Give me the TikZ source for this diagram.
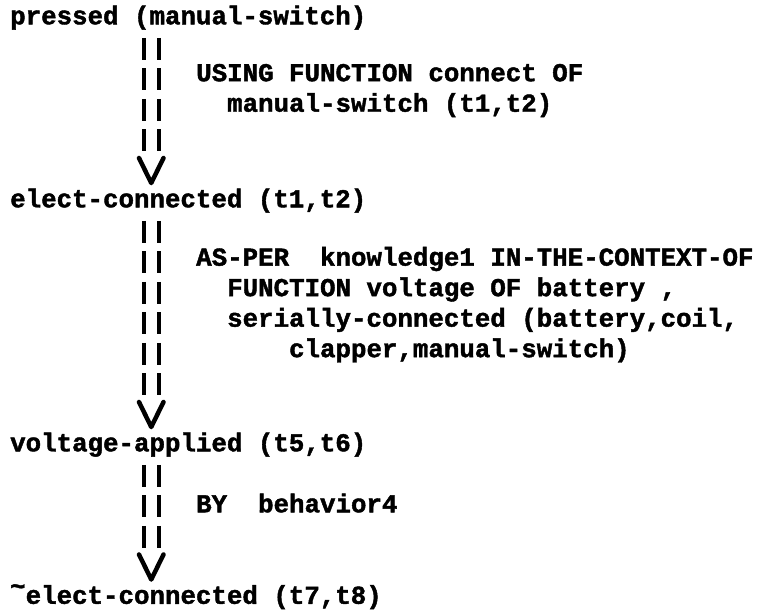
\documentclass[tikz,border=0pt]{standalone}
\usepackage{fontspec}
\newfontfamily\typewriter{Liberation Mono}[BoldFeatures={FakeBold=1.6}]
\usetikzlibrary{calc}

\tikzset{
  stmt/.style={anchor=north west, inner sep=0pt,
    font=\typewriter\bfseries\fontsize{25.8}{30.5}\selectfont,
    execute at begin node=\strut},
  note/.style={stmt, align=left},
  bars/.style={line width=4pt, dash pattern=on 22pt off 8.5pt},
  vee/.style={line width=4.5pt, line cap=round, line join=round},
}

\begin{document}
\begin{tikzpicture}[x=1pt, y=-1pt]
  \useasboundingbox (0,0) rectangle (758,613);

  % the derived states, one per text line of the trace
  \node[stmt] (s1) at (10,2.75) {pressed (manual-switch)};
  \node[stmt] (s2) at (10,185.75) {elect-connected (t1,t2)};
  \node[stmt] (s3) at (10,429.75) {voltage-applied (t5,t6)};
  \node[stmt] (s4) at (10,582.25) {\raisebox{9pt}{\textasciitilde}elect-connected (t7,t8)};

  % justifications beside the links
  \node[note] (n1) at (196,63.75) {USING FUNCTION connect OF\\
    \hphantom{xx}manual-switch (t1,t2)};
  \node[note] (n2) at (196,246.75) {AS-PER\ \ knowledge1 IN-THE-CONTEXT-OF\\
    \hphantom{xx}FUNCTION voltage OF battery ,\\
    \hphantom{xx}serially-connected (battery,coil,\\
    \hphantom{xxxxxx}clapper,manual-switch)};
  \node[note] (n3) at (196,490.75) {BY\ \ behavior4};

  % || ... \/ links
  \foreach \a/\b in {s1/s2, s2/s3, s3/s4} {
    \draw[bars] ($(\a.south west)+(133.5,4.25)$) -- ($(\b.north west)+(133.5,-34.75)$)
                ($(\a.south west)+(149,4.25)$) -- ($(\b.north west)+(149,-34.75)$);
    \draw[vee] ($(\b.north west)+(129,-27.75)$) -- ($(\b.north west)+(141.25,-2.75)$)
               -- ($(\b.north west)+(153.5,-27.75)$);
  }
\end{tikzpicture}
\end{document}
